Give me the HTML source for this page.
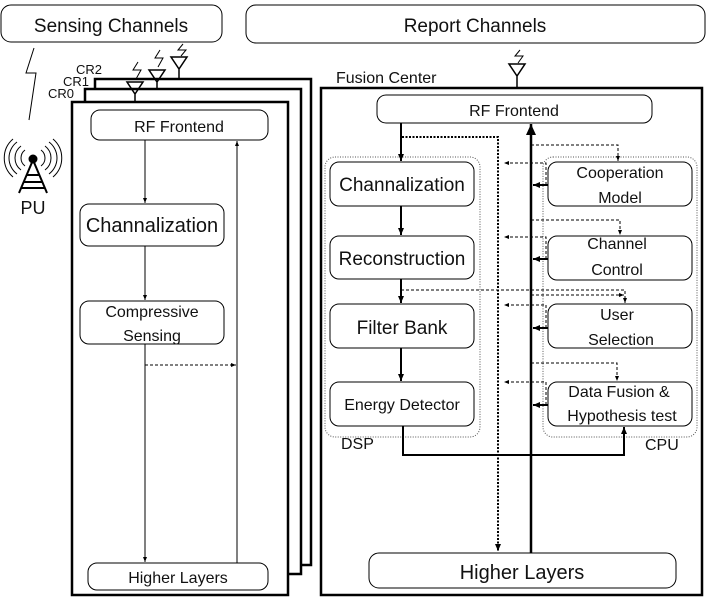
<!DOCTYPE html>
<html><head><meta charset="utf-8"><style>
html,body{margin:0;padding:0;background:#fff;}
svg{display:block;font-family:"Liberation Sans","DejaVu Sans",sans-serif;}
text{fill:#111;}
</style></head><body>
<svg width="710" height="600" viewBox="0 0 710 600" xmlns="http://www.w3.org/2000/svg">
<defs>
<marker id="a" markerWidth="8" markerHeight="8" refX="7" refY="4" orient="auto" markerUnits="userSpaceOnUse"><path d="M0,1 L7,4 L0,7 z" fill="#000"/></marker>
<marker id="as" markerWidth="6" markerHeight="6" refX="5" refY="3" orient="auto" markerUnits="userSpaceOnUse"><path d="M0,1 L5,3 L0,5 z" fill="#000"/></marker>
<marker id="ab" markerWidth="12" markerHeight="12" refX="11" refY="6" orient="auto" markerUnits="userSpaceOnUse"><path d="M0,1 L11,6 L0,11 z" fill="#000"/></marker>
</defs>
<g fill="none" stroke="#000">
<!-- top channels -->
<rect x="1" y="5" width="221" height="37" rx="10" stroke-width="1"/>
<rect x="246" y="5" width="459" height="38" rx="10" stroke-width="1"/>
<!-- lightning to PU -->
<polyline points="34,48 26,73 36,73 29,120" stroke-width="1"/>
<!-- stacked CR frames -->
<polyline points="95,89 95,79 311,79 311,565 301,565" stroke-width="2.5"/>
<polyline points="85,101 85,89 301,89 301,574 289,574" stroke-width="2.5"/>
<rect x="72" y="102" width="216" height="493" stroke-width="2.5"/>
<!-- antennas left -->
<path d="M127,82 L143,82 L135,94 z M135,94 V102" stroke-width="1.5"/>
<path d="M149,70 L165,70 L157,82 z M157,82 V89" stroke-width="1.5"/>
<path d="M171,57 L187,57 L179,69 z M179,69 V79" stroke-width="1.5"/>
<polyline points="138,62 133,70 141,70 136,79" stroke-width="1"/>
<polyline points="160,50 155,58 163,58 158,67" stroke-width="1"/>
<polyline points="183,44 178,50 186,50 181,56" stroke-width="1"/>
<!-- left inner boxes -->
<rect x="91" y="110" width="177" height="30" rx="9" stroke-width="1"/>
<rect x="80" y="204" width="144" height="42" rx="9" stroke-width="1"/>
<rect x="80" y="301" width="144" height="43" rx="9" stroke-width="1"/>
<rect x="88" y="563" width="180" height="27" rx="9" stroke-width="1"/>
<line x1="145" y1="140" x2="145" y2="203" stroke-width="1" marker-end="url(#as)"/>
<line x1="145" y1="246" x2="145" y2="300" stroke-width="1" marker-end="url(#as)"/>
<line x1="145" y1="344" x2="145" y2="562" stroke-width="1" marker-end="url(#as)"/>
<line x1="237" y1="563" x2="237" y2="141" stroke-width="1" marker-end="url(#as)"/>
<line x1="145" y1="365" x2="236" y2="365" stroke-width="1" stroke-dasharray="3,2" marker-end="url(#as)"/>
<!-- PU icon -->
<g stroke-width="1">
<path d="M25,150 A10,10 0 0 0 25,166 M21,146 A15,15 0 0 0 21,170 M17,142 A20,20 0 0 0 17,174 M13,139 A25,25 0 0 0 13,177"/>
<path d="M41,150 A10,10 0 0 1 41,166 M45,146 A15,15 0 0 1 45,170 M49,142 A20,20 0 0 1 49,174 M53,139 A25,25 0 0 1 53,177"/>
</g>
<path d="M33,160 L19,193 M33,160 L47,193 M27,175 H39 M24,182 H42 M21,188 H45" stroke-width="2"/>
<circle cx="33" cy="159" r="4" fill="#000"/>
<!-- fusion center -->
<rect x="321" y="88" width="381" height="507" stroke-width="2.5"/>
<path d="M509,64 L525,64 L517,76 z M517,76 V88" stroke-width="1.5"/>
<polyline points="520,50 515,56 523,56 518,63" stroke-width="1"/>
<rect x="377" y="95" width="275" height="28" rx="9" stroke-width="1"/>
<rect x="325" y="157" width="155" height="280" rx="10" stroke-width="1" stroke-dasharray="1,1.5" stroke="#555"/>
<rect x="543" y="157" width="154" height="280" rx="10" stroke-width="1" stroke-dasharray="1,1.5" stroke="#555"/>
<rect x="330" y="162" width="144" height="44" rx="9" stroke-width="1"/>
<rect x="330" y="236" width="144" height="43" rx="9" stroke-width="1"/>
<rect x="330" y="304" width="144" height="44" rx="9" stroke-width="1"/>
<rect x="330" y="382" width="144" height="44" rx="9" stroke-width="1"/>
<rect x="548" y="162" width="144" height="44" rx="9" stroke-width="1"/>
<rect x="548" y="236" width="144" height="44" rx="9" stroke-width="1"/>
<rect x="548" y="304" width="144" height="44" rx="9" stroke-width="1"/>
<rect x="548" y="382" width="144" height="44" rx="9" stroke-width="1"/>
<rect x="369" y="553" width="307" height="35" rx="10" stroke-width="1"/>
<!-- DSP thick arrows -->
<line x1="401" y1="123" x2="401" y2="161" stroke-width="2" marker-end="url(#a)"/>
<line x1="401" y1="206" x2="401" y2="235" stroke-width="2" marker-end="url(#a)"/>
<line x1="401" y1="279" x2="401" y2="303" stroke-width="2" marker-end="url(#a)"/>
<line x1="401" y1="348" x2="401" y2="381" stroke-width="2" marker-end="url(#a)"/>
<!-- energy detector to data fusion -->
<polyline points="403,426 403,455 624,455 624,427" stroke-width="2" marker-end="url(#a)"/>
<!-- dotted from RF to higher layers -->
<polyline points="402,137 498,137 498,551" stroke-width="2" stroke-dasharray="2,1.5" marker-end="url(#a)"/>
<!-- thick up line -->
<line x1="531" y1="553" x2="531" y2="124" stroke-width="2.5" marker-end="url(#ab)"/>
<!-- CPU dashed connections -->
<g stroke-width="1" stroke-dasharray="3,2">
<polyline points="531,145 618,145 618,161" marker-end="url(#as)"/>
<polyline points="531,220 620,220 620,235" marker-end="url(#as)"/>
<polyline points="401,290 625,290 625,303" marker-end="url(#as)"/>
<line x1="531" y1="295" x2="624" y2="295" marker-end="url(#as)"/>
<polyline points="531,363 617,363 617,381" marker-end="url(#as)"/>
<polyline points="546,185 546,163 504,163" marker-end="url(#as)"/>
<polyline points="546,259 546,237 504,237" marker-end="url(#as)"/>
<polyline points="546,328 546,305 504,305" marker-end="url(#as)"/>
<polyline points="546,405 546,382 504,382" marker-end="url(#as)"/>
</g>
<g stroke-width="2">
<line x1="548" y1="185" x2="533" y2="185" marker-end="url(#a)"/>
<line x1="548" y1="259" x2="533" y2="259" marker-end="url(#a)"/>
<line x1="548" y1="328" x2="533" y2="328" marker-end="url(#a)"/>
<line x1="548" y1="405" x2="533" y2="405" marker-end="url(#a)"/>
</g>
</g>
<!-- text -->
<g text-anchor="middle">
<text x="111" y="32" font-size="19">Sensing Channels</text>
<text x="475" y="32" font-size="19">Report Channels</text>
<text x="33" y="214" font-size="18">PU</text>
<text x="179" y="132" font-size="16">RF Frontend</text>
<text x="152" y="232" font-size="20">Channalization</text>
<text x="152" y="317" font-size="16">Compressive</text>
<text x="152" y="341" font-size="16">Sensing</text>
<text x="178" y="583" font-size="16">Higher Layers</text>
<text x="514" y="116" font-size="16">RF Frontend</text>
<text x="402" y="191" font-size="19">Channalization</text>
<text x="402" y="265" font-size="19">Reconstruction</text>
<text x="402" y="334" font-size="19">Filter Bank</text>
<text x="402" y="410" font-size="16">Energy Detector</text>
<text x="620" y="178" font-size="16">Cooperation</text>
<text x="620" y="203" font-size="16">Model</text>
<text x="617" y="249" font-size="16">Channel</text>
<text x="617" y="275" font-size="16">Control</text>
<text x="617" y="320" font-size="16">User</text>
<text x="621" y="345" font-size="16">Selection</text>
<text x="619" y="397" font-size="16">Data Fusion &amp;</text>
<text x="622" y="421" font-size="16">Hypothesis test</text>
<text x="522" y="579" font-size="20">Higher Layers</text>
</g>
<text x="336" y="83" font-size="16">Fusion Center</text>
<text x="341" y="449" font-size="16">DSP</text>
<text x="645" y="450" font-size="16">CPU</text>
<text x="76" y="74" font-size="13">CR2</text>
<text x="63" y="86" font-size="13">CR1</text>
<text x="48" y="98" font-size="13">CR0</text>
</svg>
</body></html>
